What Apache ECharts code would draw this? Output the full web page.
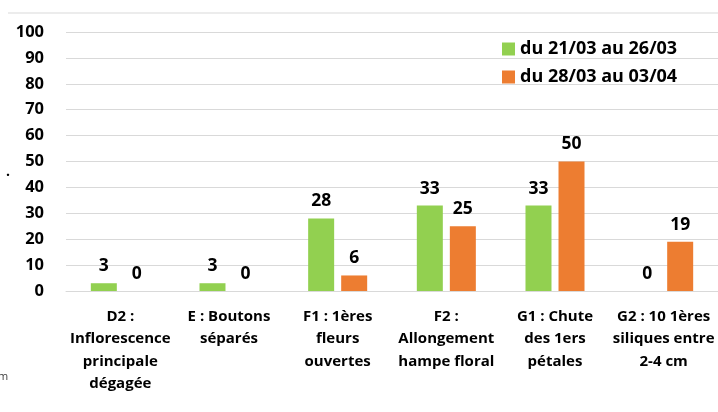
<!DOCTYPE html>
<html>
<head>
<meta charset="utf-8">
<script src="https://cdn.jsdelivr.net/npm/echarts@6/dist/echarts.min.js"></script>
<style>
  html, body { margin: 0; padding: 0; background: #fff; }
  #main { width: 718px; height: 412px; }
</style>
</head>
<body>
<div id="main"></div>
<script>
// stades phénologiques
var categories = [
    'D2 :\nInflorescence\nprincipale\ndégagée',
    'E : Boutons\nséparés',
    'F1 : 1ères\nfleurs\nouvertes',
    'F2 :\nAllongement\nhampe floral',
    'G1 : Chute\ndes 1ers\npétales',
    'G2 : 10 1ères\nsiliques entre\n2-4 cm'
];
var seriesNames = ['du 21/03 au 26/03', 'du 28/03 au 03/04'];
var week1 = [3, 3, 28, 33, 33, 0];
var week2 = [0, 0, 6, 25, 50, 19];
var yTicks = [0, 100, 10];   // min, max, interval

var font = '"Open Sans", Lato, sans-serif';

var myChart = echarts.init(document.getElementById('main'));

var labelStyle = {
    show: true,
    position: 'top',
    distance: 8,
    color: '#000',
    fontFamily: font,
    fontWeight: 'bold',
    fontSize: 17.5
};

var option = {
    animation: false,
    textStyle: { fontFamily: font },
    legend: {
        orient: 'vertical',
        left: 497,
        top: 35,
        itemWidth: 13,
        itemHeight: 13,
        itemGap: 10,
        icon: 'rect',
        textStyle: { color: '#000', fontWeight: 'bold', fontSize: 18, fontFamily: font }
    },
    grid: { left: 66, width: 655, top: 32, bottom: 121 },
    xAxis: {
        type: 'category',
        data: categories,
        axisLine: { lineStyle: { color: '#d9d9d9' } },
        axisTick: { show: false },
        axisLabel: {
            interval: 0,
            margin: 14,
            lineHeight: 22.6,
            color: '#000',
            fontWeight: 'bold',
            fontSize: 15,
            fontFamily: font
        }
    },
    yAxis: {
        type: 'value',
        min: yTicks[0],
        max: yTicks[1],
        interval: yTicks[2],
        axisLine: { show: false },
        axisTick: { show: false },
        splitLine: { lineStyle: { color: '#d9d9d9' } },
        axisLabel: {
            margin: 22,
            color: '#000',
            fontWeight: 'bold',
            fontSize: 16.5,
            fontFamily: font
        }
    },
    series: [
        {
            name: seriesNames[0],
            type: 'bar',
            data: week1,
            barWidth: 26,
            barGap: '27%',
            itemStyle: { color: '#92D050' },
            label: labelStyle
        },
        {
            name: seriesNames[1],
            type: 'bar',
            data: week2,
            barWidth: 26,
            itemStyle: { color: '#ED7D31' },
            label: labelStyle
        }
    ],
    graphic: [
        { type: 'line', shape: { x1: 8, y1: 13, x2: 718, y2: 13 }, style: { stroke: '#d9d9d9', lineWidth: 1 } },
        { type: 'text', left: 6, top: 165, style: { text: '.', fill: '#000', font: 'bold 14px ' + font } },
        { type: 'text', left: -2, top: 371, style: { text: 'm', fill: '#404040', font: '11px ' + font } }
    ]
};

myChart.setOption(option);
</script>
</body>
</html>
